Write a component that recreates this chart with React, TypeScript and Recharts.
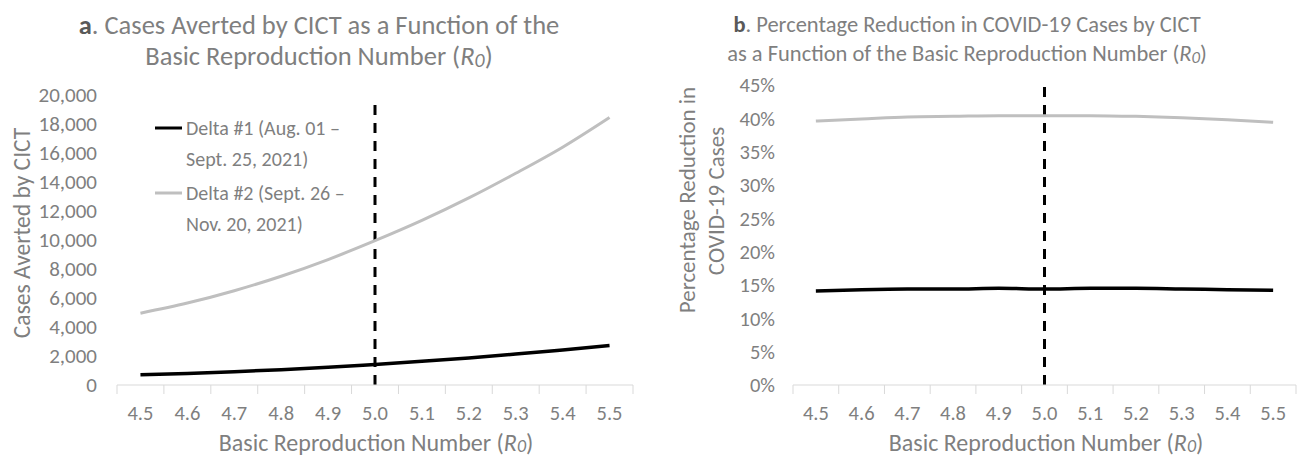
import React from 'react'
import { LineChart, Line, XAxis, YAxis, Legend, ReferenceLine } from 'recharts'

const r0Values = [4.5, 4.6, 4.7, 4.8, 4.9, 5.0, 5.1, 5.2, 5.3, 5.4, 5.5]
const delta1Averted = [700, 800, 920, 1060, 1220, 1420, 1630, 1870, 2130, 2420, 2720]
const delta2Averted = [4950, 5650, 6500, 7500, 8650, 9950, 11350, 12900, 14600, 16400, 18450]
const delta1Pct = [14.1, 14.3, 14.4, 14.4, 14.5, 14.4, 14.5, 14.5, 14.4, 14.3, 14.2]
const delta2Pct = [39.6, 39.9, 40.2, 40.3, 40.4, 40.4, 40.4, 40.3, 40.1, 39.8, 39.4]
const seriesNames = ['Delta #1 (Aug. 01 –\nSept. 25, 2021)', 'Delta #2 (Sept. 26 –\nNov. 20, 2021)']
const avertedTicks = [0, 2000, 4000, 6000, 8000, 10000, 12000, 14000, 16000, 18000, 20000]
const pctTicks = [0, 5, 10, 15, 20, 25, 30, 35, 40, 45]
const baseline = 5.0

const FONT = "Carlito, Calibri, 'Liberation Sans Narrow', 'Open Sans', sans-serif"
const GRAY = '#7f7f7f'

const averted = r0Values.map((r, i) => ({ r, d1: delta1Averted[i], d2: delta2Averted[i] }))
const pct = r0Values.map((r, i) => ({ r, d1: delta1Pct[i], d2: delta2Pct[i] }))

// excel style: labels in the middle of the category, tick marks between them
const bounds = [...r0Values.map((r) => r - 0.05), r0Values[r0Values.length - 1] + 0.05]
const xTicks = [...bounds, ...r0Values].sort((a, b) => a - b)

const XTick = (props: any) => {
    const { x, y, payload } = props
    const isLabel = r0Values.some((v) => Math.abs(v - payload.value) < 1e-6)
    if (!isLabel) {
        return <line x1={x} x2={x} y1={y} y2={y + 9} stroke="#d9d9d9" strokeWidth={1} />
    }
    return (
        <text x={x} y={y + 28} textAnchor="middle" dominantBaseline="central" fill={GRAY} fontSize={20.5} fontFamily={FONT}>
            {payload.value.toFixed(1)}
        </text>
    )
}

const LegendBox = (props: any) => {
    const { payload } = props
    return (
        <svg width={200} height={130} style={{ overflow: 'visible', display: 'block' }}>
            {(payload || []).map((p: any, i: number) => {
                const lines = String(p.value).split('\n')
                const top = i * 65
                return (
                    <g key={i}>
                        <line x1={0} x2={27} y1={top + 11} y2={top + 11} stroke={p.color} strokeWidth={3} />
                        {lines.map((l, j) => (
                            <text key={j} x={31} y={top + 11 + j * 31} dominantBaseline="central" fill={GRAY} fontSize={20} fontFamily={FONT}>
                                {l}
                            </text>
                        ))}
                    </g>
                )
            })}
        </svg>
    )
}

const R0 = () => (
    <>
        <tspan fontStyle="italic">R</tspan>
        <tspan fontStyle="italic" dy={4} fontSize="75%">0</tspan>
        <tspan dy={-4}>)</tspan>
    </>
)

const App = () => {
    return (
        <div style={{ position: 'absolute', left: 0, top: 0, width: 1298, height: 456, background: '#fff' }}>
            <div style={{ position: 'absolute', left: 0, top: 0 }}>
                <LineChart width={649} height={456} data={averted} margin={{ top: 95, right: 16, left: 0, bottom: 0 }}>
                    <XAxis dataKey="r" type="number" domain={[4.45, 5.55]} ticks={xTicks} interval={0} tickSize={0} tickMargin={0}
                        tick={<XTick />} axisLine={{ stroke: '#d9d9d9' }} height={71} />
                    <YAxis domain={[0, 20000]} ticks={avertedTicks} interval={0} width={117} axisLine={false} tickLine={false} tickMargin={14}
                        tick={{ fill: GRAY, fontSize: 21, fontFamily: FONT }} tickFormatter={(v: number) => v.toLocaleString('en-US')} />
                    <ReferenceLine segment={[{ x: baseline, y: 0 }, { x: baseline, y: 19500 }]} stroke="#000" strokeWidth={3} strokeDasharray="10 8" />
                    <Line dataKey="d1" name={seriesNames[0]} stroke="#000000" strokeWidth={3.5} dot={false} type="monotone" isAnimationActive={false} />
                    <Line dataKey="d2" name={seriesNames[1]} stroke="#bfbfbf" strokeWidth={3} dot={false} type="monotone" isAnimationActive={false} />
                    <Legend layout="horizontal" align="center" verticalAlign="middle" content={<LegendBox />}
                        wrapperStyle={{ position: 'absolute', left: 155, top: 117, width: 200, height: 130 }} />
                </LineChart>
            </div>
            <div style={{ position: 'absolute', left: 649, top: 0 }}>
                <LineChart width={649} height={456} data={pct} margin={{ top: 85, right: 2, left: 0, bottom: 0 }}>
                    <XAxis dataKey="r" type="number" domain={[4.45, 5.55]} ticks={xTicks} interval={0} tickSize={0} tickMargin={0}
                        tick={<XTick />} axisLine={{ stroke: '#d9d9d9' }} height={71} />
                    <YAxis domain={[0, 45]} ticks={pctTicks} interval={0} width={144} axisLine={false} tickLine={false} tickMargin={12}
                        tick={{ fill: GRAY, fontSize: 20.5, fontFamily: FONT }} tickFormatter={(v: number) => `${v}%`} />
                    <ReferenceLine segment={[{ x: baseline, y: 0 }, { x: baseline, y: 45 }]} stroke="#000" strokeWidth={3} strokeDasharray="10 8" />
                    <Line dataKey="d1" name={seriesNames[0]} stroke="#000000" strokeWidth={3.5} dot={false} type="monotone" isAnimationActive={false} />
                    <Line dataKey="d2" name={seriesNames[1]} stroke="#bfbfbf" strokeWidth={3} dot={false} type="monotone" isAnimationActive={false} />
                </LineChart>
            </div>
            <svg width={1298} height={456} style={{ position: 'absolute', left: 0, top: 0, pointerEvents: 'none' }} fontFamily={FONT} fill={GRAY}>
                <text x={319} y={25} textAnchor="middle" dominantBaseline="central" fontSize={26.5}>
                    <tspan fontWeight="bold" fill="#595959">a</tspan>. Cases Averted by CICT as a Function of the
                </text>
                <text x={319} y={56} textAnchor="middle" dominantBaseline="central" fontSize={26.5}>
                    Basic Reproduction Number (<R0 />
                </text>
                <text x={967} y={24} textAnchor="middle" dominantBaseline="central" fontSize={22.5}>
                    <tspan fontWeight="bold" fill="#595959">b</tspan>. Percentage Reduction in COVID-19 Cases by CICT
                </text>
                <text x={967} y={53} textAnchor="middle" dominantBaseline="central" fontSize={22.5}>
                    as a Function of the Basic Reproduction Number (<R0 />
                </text>
                <text transform="translate(22,233) rotate(-90)" textAnchor="middle" dominantBaseline="central" fontSize={23.5}>
                    Cases Averted by CICT
                </text>
                <text transform="translate(687,200) rotate(-90)" textAnchor="middle" dominantBaseline="central" fontSize={23}>
                    Percentage Reduction in
                </text>
                <text transform="translate(716,201) rotate(-90)" textAnchor="middle" dominantBaseline="central" fontSize={23}>
                    COVID-19 Cases
                </text>
                <text x={376} y={442} textAnchor="middle" dominantBaseline="central" fontSize={24}>
                    Basic Reproduction Number (<R0 />
                </text>
                <text x={1046} y={442} textAnchor="middle" dominantBaseline="central" fontSize={24}>
                    Basic Reproduction Number (<R0 />
                </text>
            </svg>
        </div>
    )
}

export default App
